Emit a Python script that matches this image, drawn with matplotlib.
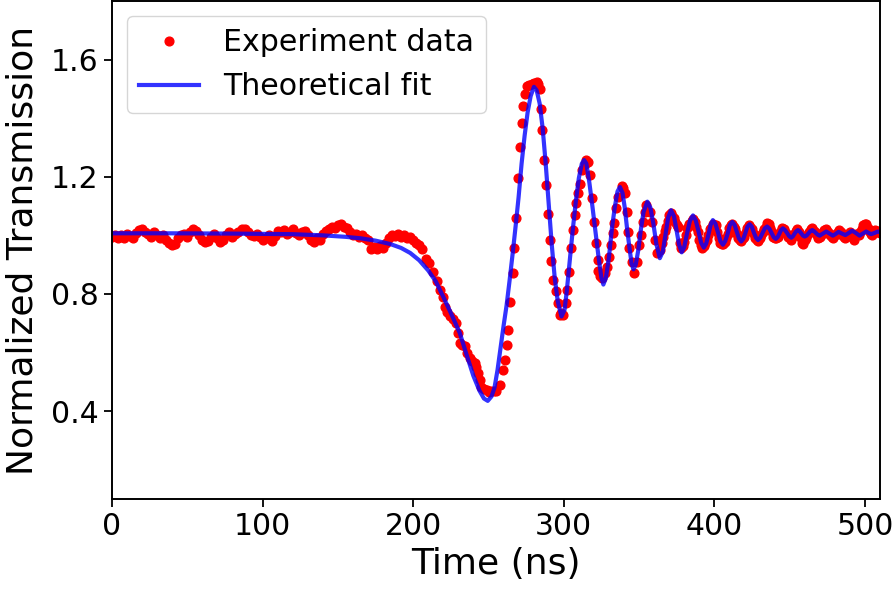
import matplotlib
matplotlib.use("Agg")
import matplotlib.pyplot as plt

# measured points (time in ns, normalized transmission)
exp_time = [
    0, 2, 4, 6, 8, 10, 12, 14, 16, 18, 20, 22, 24, 26, 28, 30, 32, 34, 36, 38,
    40, 42, 44, 46, 48, 50, 52, 54, 56, 58, 60, 62, 64, 66, 68, 70, 72, 74, 76, 78,
    80, 82, 84, 86, 88, 90, 92, 94, 96, 98, 100, 102, 104, 106, 108, 110, 112, 114, 116, 118,
    120, 122, 124, 126, 128, 130, 132, 134, 136, 138, 140, 142, 144, 146, 148, 150, 152, 154, 156, 158,
    160, 162, 164, 166, 168, 170, 172, 174, 176, 178, 180, 182, 184, 186, 188, 190, 192, 194, 196, 198,
    200, 202, 204, 206, 208.8, 210.5, 213, 215.5, 217.7, 219.5, 221, 222.5, 224.3, 226.5, 228.7, 230, 231, 232.5, 234.2, 236,
    237.6, 239, 240.9, 242, 243.1, 244.2, 245.3, 247, 248.7, 250.5, 252, 253.7, 255.3, 257.5, 259.7, 260.8, 262, 263.1, 264.6, 266,
    266.8, 268.6, 269.7, 270.8, 272.4, 273, 274.2, 275.3, 276.8, 278.6, 280.2, 281.9, 283, 284.1, 285.2, 285.8, 286.7, 288.5, 289.6, 290.7,
    291.8, 292.9, 294.7, 296.2, 297.3, 298.4, 299.5, 301.3, 302.2, 303.5, 305.1, 306.2, 307.3, 308.4, 309.5, 310.6, 312.4, 314, 315, 316.2,
    317.3, 318.5, 320, 321.4, 322.5, 322.9, 324, 325.1, 327.3, 328.9, 330.2, 331.3, 332.4, 333.5, 334.7, 336.2, 338.4, 339.5, 340.6, 341.7,
    342.4, 343.5, 345.1, 346.6, 348.4, 350.1, 351.3, 352.4, 353.9, 354.8, 357, 358.7, 360.3, 361.9, 364, 366, 368, 370, 372, 374,
    376, 378, 380, 382, 384, 386, 388, 390, 392, 394, 396, 398, 400, 402, 404, 406, 408, 410, 412, 414,
    416, 418, 420, 422, 424, 426, 428, 430, 432, 434, 436, 438, 440, 442, 444, 446, 448, 450, 452, 454,
    456, 458, 460, 462, 464, 466, 468, 470, 472, 474, 476, 478, 480, 482, 484, 486, 488, 490, 492, 494,
    496, 498, 500, 502, 504, 506, 508, 510,
    365, 367, 369, 371, 373, 375, 377, 379, 381, 383, 385, 387, 389, 391, 393, 395, 397, 399, 401, 403,
    405, 407, 409, 411, 413, 415, 417, 419, 421, 423, 425, 427, 429, 431, 433, 435, 437, 439, 441, 443,
    445, 447, 449, 451, 453, 455, 457, 459, 461, 463, 465, 467, 469, 471, 473, 475, 477, 479, 481, 483,
    485, 487, 489, 491, 493, 495, 497, 499, 501, 503, 505, 507, 509,
]
exp_signal = [
    0.995, 1.0, 0.99, 1.002, 0.992, 1.005, 0.998, 0.99, 1.008, 1.018, 1.022, 1.012, 1.004, 0.996, 1.01, 1.002, 0.99, 1.0, 0.985, 0.975,
    0.968, 0.972, 0.99, 1.0, 1.006, 0.995, 1.01, 1.02, 1.015, 1.0, 0.985, 0.976, 0.98, 0.995, 1.005, 0.99, 0.978, 0.985, 1.0, 1.01,
    0.995, 1.005, 1.012, 1.02, 1.022, 1.01, 1.0, 0.998, 1.005, 0.995, 0.985, 0.99, 1.0, 0.982, 0.998, 1.015, 1.01, 1.018, 1.005, 1.012,
    1.02, 1.008, 1.0, 1.012, 1.015, 1.0, 0.985, 0.978, 0.992, 0.985, 1.005, 1.015, 1.02, 1.03, 1.025, 1.035, 1.038, 1.03, 1.025, 1.01,
    1.0, 1.005, 0.995, 1.002, 0.99, 0.985, 0.952, 0.96, 0.955, 0.965, 0.958, 0.975, 0.99, 1.0, 0.998, 1.005, 0.995, 1.002, 0.99, 0.995,
    0.985, 0.975, 0.968, 0.955, 0.92, 0.905, 0.876, 0.845, 0.814, 0.79, 0.757, 0.74, 0.723, 0.715, 0.70, 0.665, 0.632, 0.625, 0.621, 0.60,
    0.581, 0.57, 0.564, 0.55, 0.53, 0.505, 0.484, 0.474, 0.473, 0.465, 0.467, 0.47, 0.467, 0.49, 0.541, 0.575, 0.627, 0.678, 0.774, 0.871,
    0.956, 1.058, 1.195, 1.30, 1.384, 1.441, 1.484, 1.509, 1.512, 1.516, 1.52, 1.524, 1.515, 1.501, 1.433, 1.359, 1.257, 1.172, 1.073, 0.984,
    0.914, 0.848, 0.81, 0.769, 0.729, 0.735, 0.729, 0.769, 0.814, 0.876, 0.956, 1.018, 1.07, 1.111, 1.143, 1.177, 1.223, 1.245, 1.257, 1.25,
    1.206, 1.126, 1.047, 0.975, 0.916, 0.879, 0.862, 0.854, 0.871, 0.893, 0.927, 0.967, 1.009, 1.041, 1.092, 1.132, 1.168, 1.16, 1.143, 1.081,
    1.013, 0.956, 0.91, 0.871, 0.91, 0.967, 1.001, 1.047, 1.081, 1.104, 1.081, 1.047, 0.984, 0.939, 0.95, 0.996, 1.03, 1.07, 1.065, 1.045,
    1.03, 0.956, 0.979, 1.024, 1.035, 1.055, 1.03, 0.984, 0.956, 0.975, 1.0, 1.025, 1.03, 1.01, 0.975, 0.97, 0.99, 1.025, 1.04, 1.02,
    0.99, 0.982, 0.995, 1.025, 1.03, 1.005, 0.985, 0.99, 1.01, 1.03, 1.04, 1.01, 0.99, 0.995, 1.015, 1.022, 1.005, 0.99, 0.998, 1.015,
    1.01, 0.975, 0.985, 1.005, 1.02, 1.015, 1.0, 0.995, 1.01, 1.02, 1.008, 0.995, 1.0, 1.012, 1.01, 0.995, 0.998, 1.01, 0.99, 1.005,
    1.0, 1.02, 1.04, 1.025, 1.005, 1.012, 1.015, 1.008,
    0.975, 1.015, 1.05, 1.075, 1.06, 1.035, 0.975, 0.962, 1.0, 1.04, 1.05, 1.045, 1.01, 0.968, 0.962, 0.985, 1.02, 1.04, 1.035, 0.99,
    0.972, 0.978, 1.005, 1.035, 1.03, 1.005, 0.985, 0.99, 1.012, 1.035, 1.02, 0.99, 0.982, 1.0, 1.02, 1.042, 1.025, 0.995, 0.99, 1.005,
    1.025, 1.012, 0.995, 0.985, 1.005, 1.02, 0.995, 0.972, 0.99, 1.012, 1.025, 1.01, 0.992, 1.0, 1.018, 1.015, 1.0, 0.992, 1.005, 1.018,
    1.0, 0.99, 1.004, 1.0, 0.985, 1.0, 1.01, 1.035, 1.04, 1.015, 1.0, 1.018, 1.01,
]

# theoretical fit curve
fit_time = [
    0, 40, 80, 120, 140, 155, 165, 175, 185, 192, 198, 204, 210, 215, 220, 225, 231, 235, 240, 244,
    247, 249.5, 252, 254, 256, 258, 260, 262, 264, 266, 268, 270, 272, 274, 276, 278, 280.2, 282, 284, 286,
    288, 290, 292, 294, 296, 298.5, 300.5, 302, 304, 306, 308, 310, 312, 313.5, 315, 317, 319, 321, 323, 325,
    326.3, 328, 330, 332, 334, 335.7, 337.3, 339, 340.5, 342, 343.7, 345, 346.3, 347.8, 349.5, 351.2, 353, 355.5, 357.5, 359.5,
    361.5, 363.8, 365.8, 367.5, 369.3, 371.2, 373.2, 374.8, 376.5, 378.3, 380, 382, 383.8, 385.8, 387.6, 389.4, 391.2, 393, 394.6, 396.2,
    397.6, 399, 400.7, 402.4, 404, 405.7, 407.2, 408.8, 410.3, 411.9, 413.4, 414.9, 416.3, 417.8, 419.2, 420.6, 422, 423.4, 424.8, 426.2,
    427.6, 429, 430.5, 432, 433.5, 435, 436.5, 438, 439.4, 440.8, 442, 443.2, 444.3, 445.5, 446.9, 448.3, 449.7, 451.1, 452.2, 453.3,
    454.4, 455.5, 456.6, 457.7, 458.9, 460, 461.2, 462.5, 463.7, 465, 466.2, 467.5, 468.7, 469.9, 472.1, 474.3, 476.5, 478.7, 480.6, 482.5,
    484.7, 487, 489.2, 491.5, 494, 496.4, 498.6, 500.8, 502.5, 504.1, 506.3, 508.5, 510,
]
fit_signal = [
    1.007, 1.007, 1.006, 1.004, 1.0, 0.995, 0.99, 0.982, 0.97, 0.957, 0.94, 0.915, 0.88, 0.843, 0.79, 0.735, 0.666, 0.6, 0.52, 0.47,
    0.443, 0.435, 0.45, 0.48, 0.54, 0.615, 0.69, 0.76, 0.845, 0.935, 1.03, 1.13, 1.245, 1.34, 1.42, 1.475, 1.507, 1.495, 1.45, 1.365,
    1.245, 1.105, 0.97, 0.855, 0.775, 0.723, 0.745, 0.81, 0.915, 1.02, 1.115, 1.195, 1.245, 1.257, 1.245, 1.18, 1.1, 1.015, 0.93, 0.855,
    0.832, 0.855, 0.925, 1.025, 1.1, 1.15, 1.165, 1.145, 1.095, 1.025, 0.955, 0.905, 0.884, 0.9, 0.95, 1.02, 1.08, 1.115, 1.095, 1.04,
    0.97, 0.922, 0.945, 1.0, 1.06, 1.086, 1.065, 1.02, 0.97, 0.942, 0.96, 1.01, 1.05, 1.068, 1.052, 1.015, 0.975, 0.958, 0.972, 1.005,
    1.037, 1.052, 1.04, 1.01, 0.98, 0.968, 0.98, 1.005, 1.035, 1.046, 1.036, 1.012, 0.99, 0.979, 0.988, 1.008, 1.03, 1.038, 1.03, 1.01,
    0.992, 0.984, 0.992, 1.008, 1.024, 1.03, 1.023, 1.008, 0.994, 0.988, 0.994, 1.006, 1.018, 1.024, 1.018, 1.008, 0.997, 0.992, 0.997, 1.006,
    1.014, 1.018, 1.014, 1.007, 0.999, 0.996, 0.999, 1.007, 1.014, 1.018, 1.014, 1.008, 1.002, 0.999, 1.006, 1.013, 1.006, 0.999, 1.005, 1.012,
    1.006, 1.001, 1.008, 1.016, 1.008, 0.999, 1.006, 1.013, 1.008, 1.004, 1.008, 1.013, 1.011,
]

fig = plt.figure(figsize=(8.94, 5.89), dpi=100)
ax = fig.add_axes([112 / 894, 90 / 589, 768 / 894, 498 / 589])

ax.plot(exp_time, exp_signal, 'o', color='red', markersize=6.3, label='Experiment data')
ax.plot(fit_time, fit_signal, '-', color='blue', alpha=0.8, linewidth=3, label='Theoretical fit')

ax.set_xlim(0, 510)
ax.set_ylim(0.1, 1.8)
ax.set_xticks([0, 100, 200, 300, 400, 500])
ax.set_yticks([0.4, 0.8, 1.2, 1.6])
ax.tick_params(labelsize=21.5, length=6, width=1.3)
for sp in ax.spines.values():
    sp.set_linewidth(1.4)

ax.set_xlabel('Time (ns)', fontsize=26, labelpad=4)
ax.set_ylabel('Normalized Transmission', fontsize=26, labelpad=8)
ax.legend(loc='upper left', fontsize=21.6, numpoints=1, borderaxespad=0.5)

fig.savefig('out.png', dpi=100)
